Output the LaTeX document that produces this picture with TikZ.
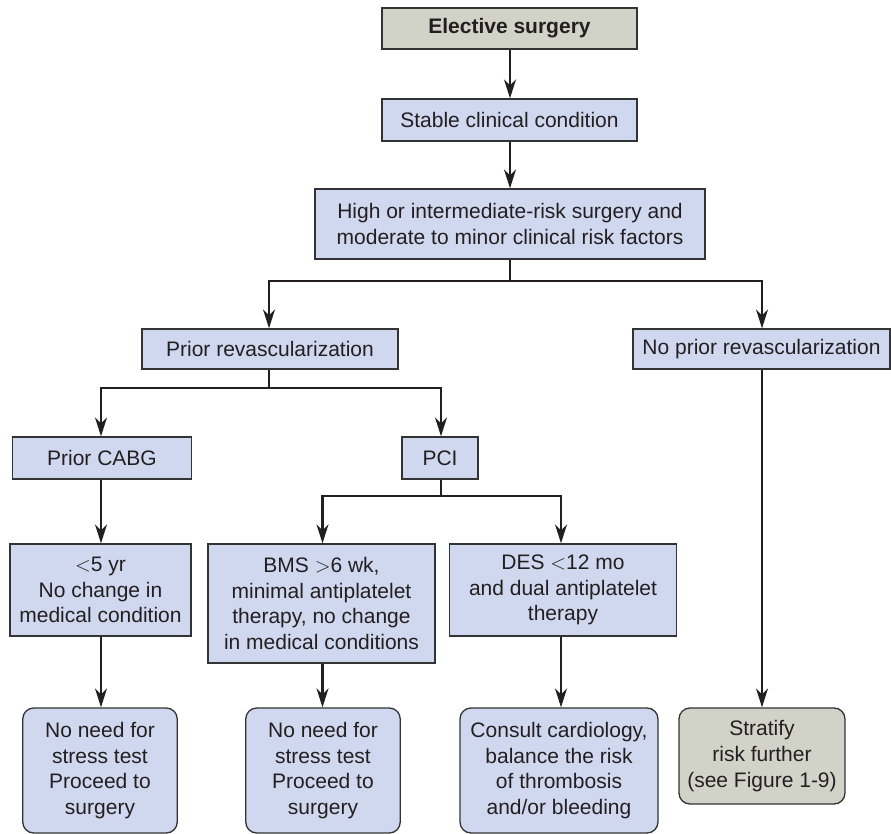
\documentclass[tikz,border=0pt]{standalone}
\usepackage{fontspec}
\setmainfont{Liberation Sans}
\usetikzlibrary{arrows.meta}
\definecolor{bluefill}{HTML}{D0D8F0}
\definecolor{grayfill}{HTML}{D1D3C8}
\definecolor{edge}{HTML}{333333}
\definecolor{ink}{HTML}{231F20}
\tikzset{
  box/.style={draw=edge, line width=1.3pt, inner sep=0pt, align=center,
    font=\fontsize{21}{25.6}\selectfont, text=ink},
  bluebox/.style={box, fill=bluefill},
  graybox/.style={box, fill=grayfill},
  rbox/.style={box, fill=bluefill, rounded corners=11pt},
  rgray/.style={box, fill=grayfill, rounded corners=11pt},
  arr/.style={line width=2.2pt, draw=ink, -{Stealth[length=19pt,width=12pt,inset=6pt]}},
  ln/.style={line width=2.2pt, draw=ink}
}
\begin{document}
\begin{tikzpicture}[x=1pt,y=-1pt]
\useasboundingbox (0,0) rectangle (891,834);
\node[graybox, minimum width=255pt, minimum height=41pt] (e) at (509.5,28.5) {\textbf{Elective surgery}};
\node[bluebox, minimum width=255pt, minimum height=42pt] (s) at (509.5,120) {Stable clinical condition};
\node[bluebox, minimum width=390pt, minimum height=70pt] (h) at (510,224) {High or intermediate-risk surgery and\\moderate to minor clinical risk factors};
\node[bluebox, minimum width=256pt, minimum height=40pt] (pr) at (270,349) {Prior revascularization};
\node[bluebox, minimum width=257pt, minimum height=40pt] (np) at (761.5,349) {No prior revascularization};
\node[bluebox, minimum width=179.5pt, minimum height=42pt] (cabg) at (102,458) {Prior CABG};
\node[bluebox, minimum width=76pt, minimum height=42pt] (pci) at (440,458) {PCI};
\node[bluebox, minimum width=181pt, minimum height=92pt] (fy) at (100.5,590) {$<$5 yr\\No change in\\medical condition};
\node[bluebox, minimum width=227pt, minimum height=119pt] (bms) at (321.5,603.5) {BMS $>$6 wk,\\minimal antiplatelet\\therapy, no change\\in medical conditions};
\node[bluebox, minimum width=226.5pt, minimum height=92pt] (des) at (563,590) {DES $<$12 mo\\and dual antiplatelet\\therapy};
\node[rbox, minimum width=154.5pt, minimum height=125pt] (o1) at (100,770.5) {No need for\\stress test\\Proceed to\\surgery};
\node[rbox, minimum width=154.5pt, minimum height=125pt] (o2) at (323,770.5) {No need for\\stress test\\Proceed to\\surgery};
\node[rbox, minimum width=198pt, minimum height=125pt] (o3) at (559,770.5) {Consult cardiology,\\balance the risk\\of thrombosis\\and/or bleeding};
\node[rgray, minimum width=166pt, minimum height=96pt] (o4) at (762,756) {Stratify\\risk further\\(see Figure 1-9)};

\coordinate (xa) at (510,0);
\coordinate (xl) at (269,0);
\coordinate (xr) at (762,0);
\coordinate (xc) at (101,0);
\coordinate (xp) at (441,0);
\coordinate (xb) at (322.5,0);
\coordinate (xd) at (561,0);
\coordinate (j1) at (510,281);
\coordinate (j2) at (269,388);
\coordinate (j3) at (441,496);

\draw[arr] (e.south -| xa) -- (s.north -| xa);
\draw[arr] (s.south -| xa) -- (h.north -| xa);
\draw[ln] (h.south -| xa) -- (j1);
\draw[arr] (j1) -| (pr.north -| xl);
\draw[arr] (j1) -| (np.north -| xr);
\draw[ln] (pr.south -| j2) -- (j2);
\draw[arr] (j2) -| (cabg.north -| xc);
\draw[arr] (j2) -| (pci.north -| xp);
\draw[arr] (cabg.south -| xc) -- (fy.north -| xc);
\draw[ln] (pci.south -| xp) -- (j3);
\draw[arr] (j3) -| (bms.north -| xb);
\draw[arr] (j3) -| (des.north -| xd);
\draw[arr] (fy.south -| xc) -- (o1.north -| xc);
\draw[arr] (bms.south -| xb) -- (o2.north -| xb);
\draw[arr] (des.south -| xd) -- (o3.north -| xd);
\draw[arr] (np.south -| xr) -- (o4.north -| xr);
\end{tikzpicture}
\end{document}
